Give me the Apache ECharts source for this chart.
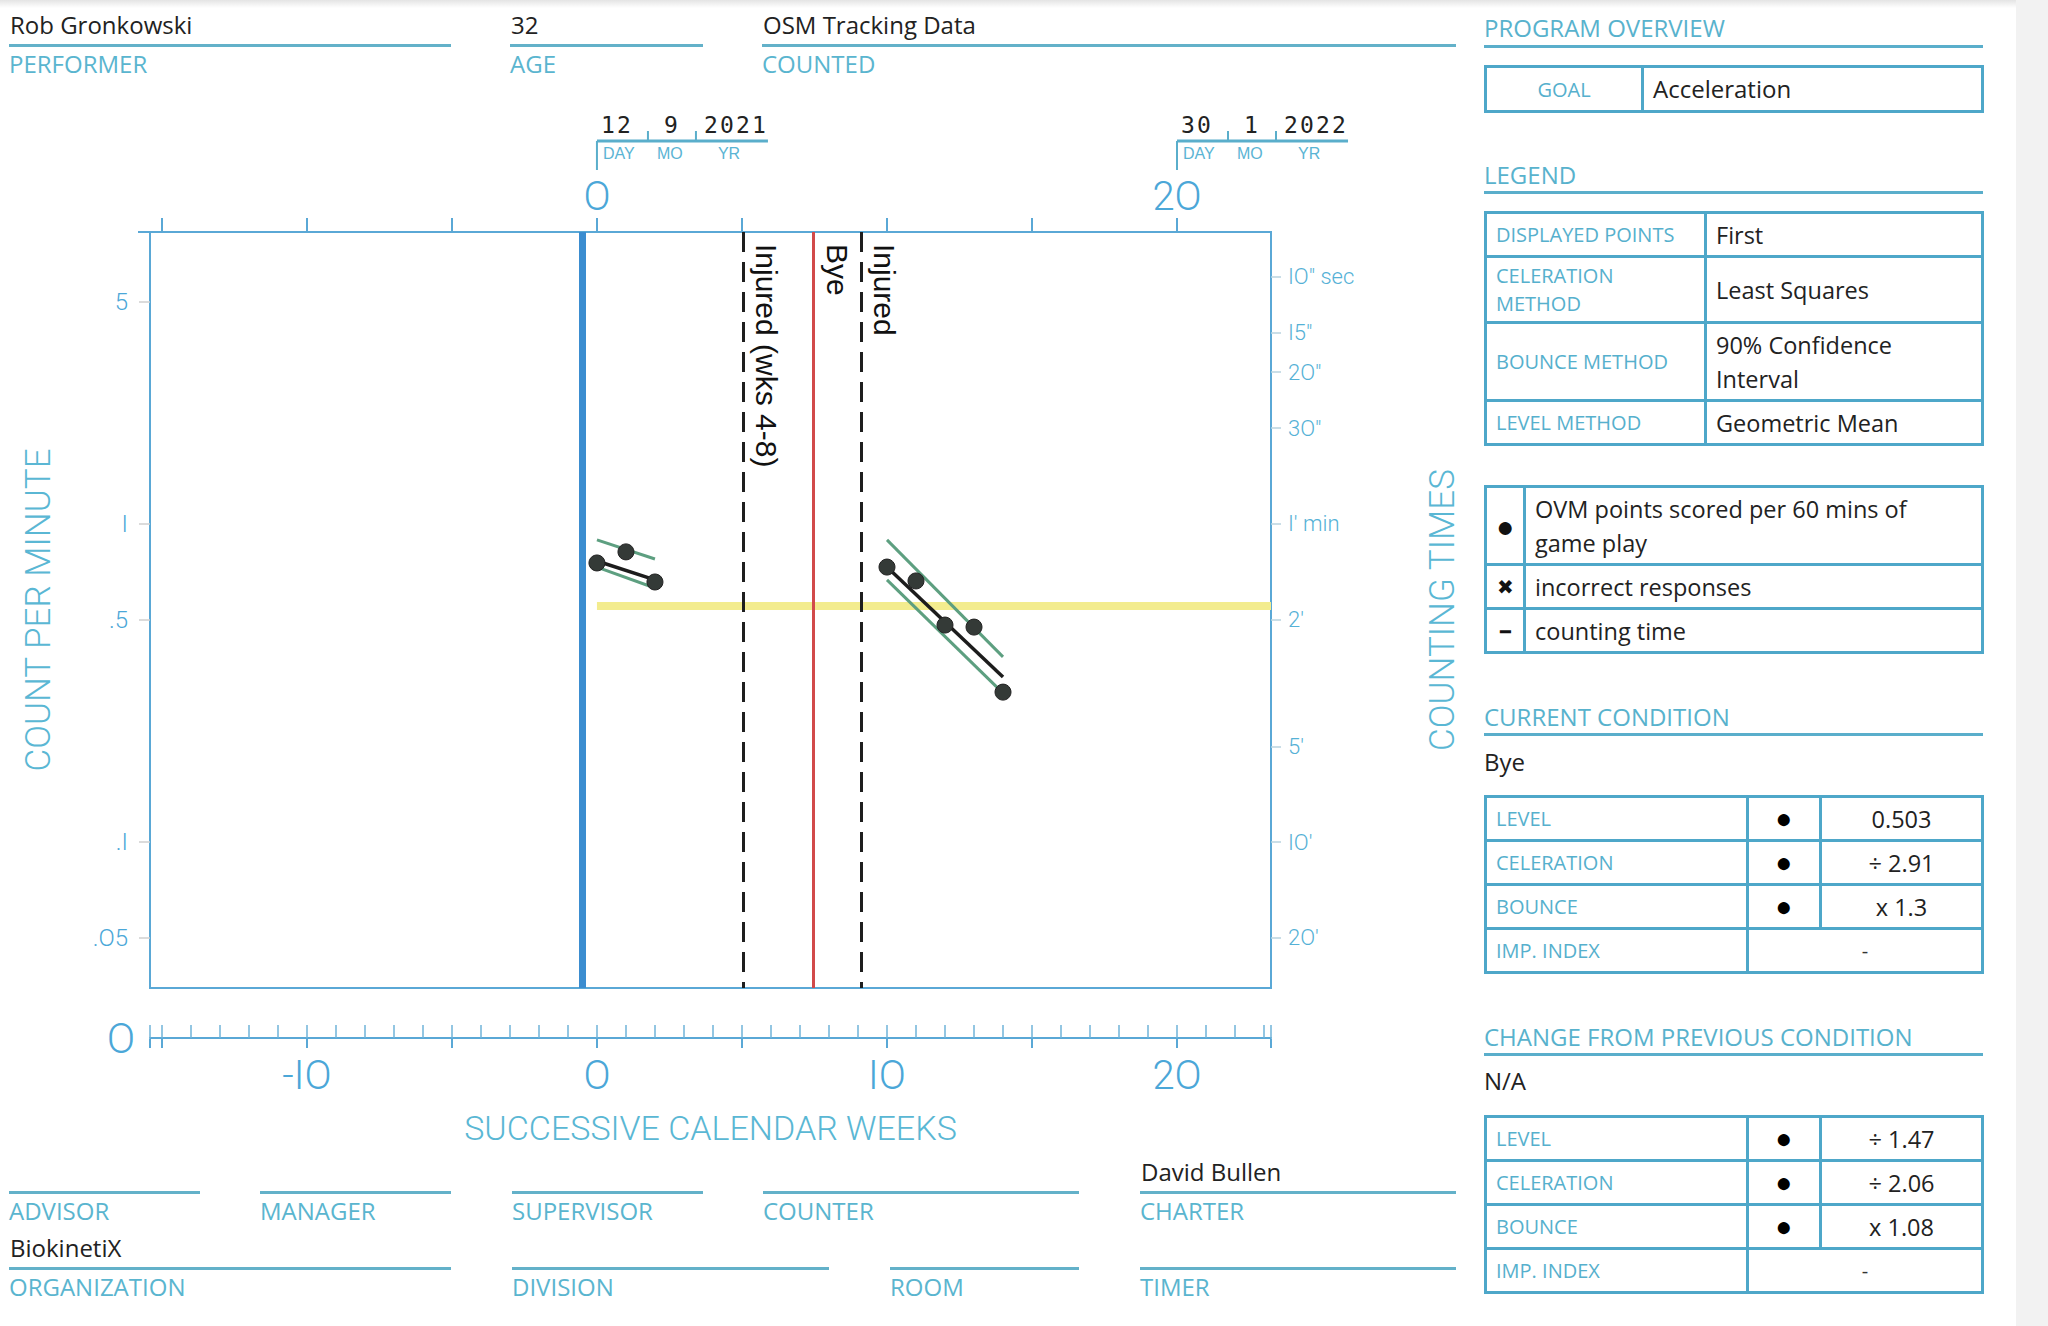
<!DOCTYPE html>
<html>
<head>
<meta charset="utf-8">
<script src="https://cdn.jsdelivr.net/npm/echarts@6/dist/echarts.min.js"></script>
<style>
  html, body { margin:0; padding:0; background:#fff; }
  body { width:2048px; height:1326px; position:relative; overflow:hidden; font-family:'Open Sans', sans-serif; }
  #chart { position:absolute; left:0; top:0; width:2048px; height:1326px; }
  .hline { position:absolute; height:3px; background:#63b1c9; }
  .val { position:absolute; font-size:24px; color:#222; white-space:nowrap; line-height:30px; }
  .lab { position:absolute; font-size:24px; color:#5ab5cf; white-space:nowrap; line-height:30px; }
  .sec { position:absolute; font-size:24px; color:#58b2cd; white-space:nowrap; line-height:30px; }
  table.pt { position:absolute; border-collapse:collapse; table-layout:fixed; }
  table.pt td { border:3px solid #4ea7c9; padding:0; overflow:hidden; }
  td.k { font-size:20px; color:#56b0cd; padding-left:9px !important; line-height:28px; }
  td.v { font-size:23.5px; color:#222; padding-left:9px !important; line-height:34px; }
  td.c { text-align:center; }
  td.dot { text-align:center; font-size:28px; color:#000; line-height:24px; vertical-align:middle; }
  #strip { position:absolute; left:2016px; top:0; width:32px; height:1326px; background:#f2f2f2; }
  #shadow { position:absolute; left:0; top:0; width:2016px; height:8px; background:linear-gradient(#e4e4e4, rgba(255,255,255,0)); }
</style>
</head>
<body>
<div id="chart"></div>
<div id="overlay"></div>
<div id="strip"></div>
<div id="shadow"></div>
<script>
// ---------------- data ----------------
const countTicks = [5, 1, 0.5, 0.1, 0.05];
const countTickLabels = ['5', 'I', '.5', '.I', '.O5'];
const timeTicks = [6, 4, 3, 2, 1, 0.5, 0.2, 0.1, 0.05];
const timeTickLabels = ['IO" sec', 'I5"', '2O"', '3O"', "I' min", "2'", "5'", "IO'", "2O'"];
const topTickWeeks = [-15, -10, -5, 0, 5, 10, 15, 20];
const topLabelWeeks = [0, 20];
const topLabels = ['O', '2O'];
const rulerLabelWeeks = [-10, 0, 10, 20];
const rulerLabels = ['-IO', 'O', 'IO', '2O'];
const weekMin = -15.41, weekMax = 23.24;
const countMin = 0.03475, countMax = 8.28;

const weeksA = [0, 1, 2];
const pointsA = [0.754, 0.817, 0.657];
const weeksB = [10, 11, 12, 13, 14];
const pointsB = [0.732, 0.662, 0.481, 0.474, 0.296];

const trendWeeksA = [0, 2];
const celerationA = [0.765, 0.667];
const bounceUpA = [0.891, 0.776];
const bounceLowA = [0.732, 0.629];
const trendWeeksB = [10, 14];
const celerationB = [0.732, 0.330];
const bounceUpB = [0.891, 0.382];
const bounceLowB = [0.667, 0.294];

const levelWeeks = [0, 23.24];
const levelValue = 0.552;

const phaseWeeks = [-0.52, 5.03, 7.45, 9.1];
const phaseLabels = ['', 'Injured (wks 4-8)', 'Bye', 'Injured'];
const phaseKinds = ['start', 'dashed', 'red', 'dashed'];

const dateWeeks = [0, 20];
const dateValues = [['12', '9', '2021'], ['30', '1', '2022']];
const dateParts = ['DAY', 'MO', 'YR'];

const headerFields = [
  { x: 9, w: 442, y: 45, value: 'Rob Gronkowski', label: 'PERFORMER' },
  { x: 510, w: 193, y: 45, value: '32', label: 'AGE' },
  { x: 762, w: 694, y: 45, value: 'OSM Tracking Data', label: 'COUNTED' },
  { x: 9, w: 191, y: 1192, value: '', label: 'ADVISOR' },
  { x: 260, w: 191, y: 1192, value: '', label: 'MANAGER' },
  { x: 512, w: 191, y: 1192, value: '', label: 'SUPERVISOR' },
  { x: 763, w: 316, y: 1192, value: '', label: 'COUNTER' },
  { x: 1140, w: 316, y: 1192, value: 'David Bullen', label: 'CHARTER' },
  { x: 9, w: 442, y: 1268, value: 'BiokinetiX', label: 'ORGANIZATION' },
  { x: 512, w: 317, y: 1268, value: '', label: 'DIVISION' },
  { x: 890, w: 189, y: 1268, value: '', label: 'ROOM' },
  { x: 1140, w: 316, y: 1268, value: '', label: 'TIMER' }
];

const legendRows = [['DISPLAYED POINTS', 'First'], ['CELERATION<br>METHOD', 'Least Squares'], ['BOUNCE METHOD', '90% Confidence<br>Interval'], ['LEVEL METHOD', 'Geometric Mean']];
const symbolRows = [['●', 'OVM points scored per 60 mins of<br>game play'], ['✖', 'incorrect responses'], ['━', 'counting time']];
const currentRows = [['LEVEL', '●', '0.503'], ['CELERATION', '●', '÷ 2.91'], ['BOUNCE', '●', 'x 1.3'], ['IMP. INDEX', '', '-']];
const changeRows = [['LEVEL', '●', '÷ 1.47'], ['CELERATION', '●', '÷ 2.06'], ['BOUNCE', '●', 'x 1.08'], ['IMP. INDEX', '', '-']];

// ---------------- HTML panels ----------------
const ov = document.getElementById('overlay');
let html = '';
headerFields.forEach(f => {
  html += `<div class="hline" style="left:${f.x}px;top:${f.y - 1}px;width:${f.w}px"></div>`;
  if (f.value) html += `<div class="val" style="left:${f.x + 1}px;top:${f.y - 35}px">${f.value}</div>`;
  html += `<div class="lab" style="left:${f.x}px;top:${f.y + 4}px">${f.label}</div>`;
});
function section(title, y, lineY) {
  return `<div class="sec" style="left:1484px;top:${y - 15}px">${title}</div>` +
         `<div class="hline" style="left:1484px;top:${lineY - 1}px;width:499px;background:#5aaecb"></div>`;
}
html += section('PROGRAM OVERVIEW', 28, 46);
html += `<table class="pt" style="left:1484px;top:65px;width:500px"><colgroup><col style="width:157px"><col></colgroup>
  <tr style="height:45px"><td class="c" style="font-size:20px;color:#56b0cd">GOAL</td><td class="v" style="padding-left:7px;font-size:24px">Acceleration</td></tr></table>`;
html += section('LEGEND', 175, 192);
const legendHeights = [44, 66, 78, 44];
html += `<table class="pt" style="left:1484px;top:211px;width:500px"><colgroup><col style="width:220px"><col></colgroup>` +
  legendRows.map((r, i) => `<tr style="height:${legendHeights[i]}px"><td class="k">${r[0]}</td><td class="v">${r[1]}</td></tr>`).join('') + `</table>`;
const symbolHeights = [78, 44, 44];
const symbolSizes = [30, 20, 18];
html += `<table class="pt" style="left:1484px;top:485px;width:500px"><colgroup><col style="width:39px"><col></colgroup>` +
  symbolRows.map((r, i) => `<tr style="height:${symbolHeights[i]}px"><td class="c" style="font-size:${symbolSizes[i]}px;color:#111;line-height:28px">${r[0]}</td><td class="v" style="padding-left:9px">${r[1]}</td></tr>`).join('') + `</table>`;
html += section('CURRENT CONDITION', 717, 734);
html += `<div class="val" style="left:1484px;top:747px">Bye</div>`;
function condTable(rows, top) {
  return `<table class="pt" style="left:1484px;top:${top}px;width:500px"><colgroup><col style="width:262px"><col style="width:73px"><col></colgroup>` +
    rows.map(r => r[1]
      ? `<tr style="height:44px"><td class="k">${r[0]}</td><td class="dot"><span style="position:relative;top:-2px">${r[1]}</span></td><td class="c" style="font-size:23.5px;color:#222">${r[2]}</td></tr>`
      : `<tr style="height:44px"><td class="k">${r[0]}</td><td class="c" colspan="2" style="font-size:20px;color:#333">${r[2]}</td></tr>`).join('') + `</table>`;
}
html += condTable(currentRows, 795);
html += section('CHANGE FROM PREVIOUS CONDITION', 1037, 1054);
html += `<div class="val" style="left:1484px;top:1066px">N/A</div>`;
html += condTable(changeRows, 1115);
ov.innerHTML = html;

// ---------------- chart ----------------
const BLUE = '#4ba7d8';
const AXIS_FONT = 'Roboto, "Liberation Sans", sans-serif';
function lookup(ticks, labels) {
  return v => {
    for (let i = 0; i < ticks.length; i++) if (Math.abs(ticks[i] - v) <= Math.abs(ticks[i]) * 1e-6 + 1e-9) return labels[i];
    return '';
  };
}
const rulerTicks = [weekMin];
for (let w = -15; w <= 23; w++) rulerTicks.push(w);
rulerTicks.push(weekMax);
const rulerMajor = [weekMin, -15, -10, -5, 0, 5, 10, 15, 20, weekMax];

const chart = echarts.init(document.getElementById('chart'), null, { renderer: 'svg', width: 2048, height: 1326 });

const series = [];
series.push({
  type: 'line', xAxisIndex: 0, yAxisIndex: 0, symbol: 'none', z: 1, silent: true,
  lineStyle: { color: '#f3ec8e', width: 8 },
  data: levelWeeks.map(w => [w, levelValue])
});
phaseWeeks.forEach((w, i) => {
  const kind = phaseKinds[i];
  const ls = kind === 'start' ? { color: '#3b8dd0', width: 7, type: 'solid' }
           : kind === 'red' ? { color: '#d24a4a', width: 3, type: 'solid' }
           : { color: '#1e1e1e', width: 3, type: [20, 10] };
  series.push({
    type: 'line', xAxisIndex: 0, yAxisIndex: 0, data: [], silent: true, z: 2,
    markLine: {
      symbol: 'none', silent: true, animation: false,
      lineStyle: ls,
      label: {
        show: !!phaseLabels[i], position: 'insideStartTop', formatter: phaseLabels[i],
        color: '#111', fontSize: 30, fontFamily: '"Liberation Sans", Arial, sans-serif', distance: [12, 9]
      },
      emphasis: { disabled: true },
      data: [[{ coord: [w, countMax] }, { coord: [w, countMin] }]]
    }
  });
});
[[trendWeeksA, bounceUpA], [trendWeeksA, bounceLowA], [trendWeeksB, bounceUpB], [trendWeeksB, bounceLowB]].forEach(p => {
  series.push({
    type: 'line', xAxisIndex: 0, yAxisIndex: 0, symbol: 'none', z: 3, silent: true,
    lineStyle: { color: '#5d9f80', width: 3 },
    data: p[0].map((w, i) => [w, p[1][i]])
  });
});
[[trendWeeksA, celerationA], [trendWeeksB, celerationB]].forEach(p => {
  series.push({
    type: 'line', xAxisIndex: 0, yAxisIndex: 0, symbol: 'none', z: 4, silent: true,
    lineStyle: { color: '#1c1c1c', width: 3.5 },
    data: p[0].map((w, i) => [w, p[1][i]])
  });
});
[[weeksA, pointsA], [weeksB, pointsB]].forEach(p => {
  series.push({
    type: 'scatter', xAxisIndex: 0, yAxisIndex: 0, symbol: 'circle', symbolSize: 16, z: 5, silent: true,
    itemStyle: { color: '#343a37', borderColor: '#222', borderWidth: 1, opacity: 1 },
    data: p[0].map((w, i) => [w, p[1][i]])
  });
});

const option = {
  animation: false,
  backgroundColor: 'transparent',
  grid: [
    { left: 150, top: 232, width: 1121, height: 756, show: true, borderColor: '#5aa8d6', borderWidth: 2, backgroundColor: 'transparent' },
    { left: 150, top: 1038, width: 1121, height: 1, show: false }
  ],
  xAxis: [
    {
      type: 'value', gridIndex: 0, position: 'top', min: weekMin, max: weekMax,
      axisLine: { show: true, onZero: false, lineStyle: { color: '#5aa8d6', width: 2 } },
      axisTick: { show: true, customValues: topTickWeeks, length: 14, lineStyle: { color: '#5aa8d6', width: 2 } },
      axisLabel: { customValues: topLabelWeeks, formatter: lookup(topLabelWeeks, topLabels), fontSize: 40, color: BLUE, margin: 16, fontFamily: AXIS_FONT, fontWeight: 300 },
      splitLine: { show: false }
    },
    {
      type: 'value', gridIndex: 1, position: 'top', min: weekMin, max: weekMax,
      axisLine: { show: true, onZero: false, lineStyle: { color: '#5aa8d6', width: 2 } },
      axisTick: { show: true, customValues: rulerTicks, length: 13, lineStyle: { color: '#6fb3d8', width: 1.5 } },
      axisLabel: { show: false },
      splitLine: { show: false }
    },
    {
      type: 'value', gridIndex: 1, position: 'bottom', min: weekMin, max: weekMax,
      axisLine: { show: false, onZero: false },
      axisTick: { show: true, customValues: rulerMajor, length: 9, lineStyle: { color: '#5aa8d6', width: 2 } },
      axisLabel: { customValues: rulerLabelWeeks, formatter: lookup(rulerLabelWeeks, rulerLabels), fontSize: 40, color: BLUE, margin: 16, fontFamily: AXIS_FONT, fontWeight: 300 },
      splitLine: { show: false },
      name: 'SUCCESSIVE CALENDAR WEEKS', nameLocation: 'middle', nameGap: 72,
      nameTextStyle: { fontSize: 34, color: '#5ab7d4', fontFamily: AXIS_FONT, fontWeight: 300 }
    }
  ],
  yAxis: [
    {
      type: 'log', gridIndex: 0, position: 'left', min: countMin, max: countMax,
      axisLine: { show: false, onZero: false },
      axisTick: { show: true, customValues: countTicks, length: 11, lineStyle: { color: '#cfcfcf', width: 1.5 } },
      axisLabel: { customValues: countTicks, formatter: lookup(countTicks, countTickLabels), fontSize: 24, color: BLUE, margin: 22, fontFamily: AXIS_FONT, fontWeight: 300 },
      splitLine: { show: false }, minorTick: { show: false },
      name: 'COUNT PER MINUTE', nameLocation: 'middle', nameRotate: 90, nameGap: 94,
      nameTextStyle: { fontSize: 35, color: '#5ab7d4', fontFamily: AXIS_FONT, fontWeight: 300 }
    },
    {
      type: 'log', gridIndex: 0, position: 'right', min: countMin, max: countMax,
      axisLine: { show: false, onZero: false },
      axisTick: { show: true, customValues: timeTicks, length: 10, lineStyle: { color: '#b9d3df', width: 1.5 } },
      axisLabel: { customValues: timeTicks, formatter: lookup(timeTicks, timeTickLabels), fontSize: 22, color: '#55b1d6', margin: 17, fontFamily: AXIS_FONT, fontWeight: 300 },
      splitLine: { show: false }, minorTick: { show: false },
      name: 'COUNTING TIMES', nameLocation: 'middle', nameRotate: 90, nameGap: 154,
      nameTextStyle: { fontSize: 35, color: '#5ab7d4', fontFamily: AXIS_FONT, fontWeight: 300 }
    },
    { type: 'value', gridIndex: 1, show: false }
  ],
  series: series
};
chart.setOption(option);

// date brackets and ruler zero, positioned from the week axis
const graphics = [];
dateWeeks.forEach((w, k) => {
  const x = chart.convertToPixel({ xAxisIndex: 0 }, w);
  const lc = '#5aaecb';
  graphics.push({ type: 'line', shape: { x1: x, y1: 170, x2: x, y2: 141 }, style: { stroke: lc, lineWidth: 2 } });
  graphics.push({ type: 'line', shape: { x1: x, y1: 141, x2: x + 171, y2: 141 }, style: { stroke: lc, lineWidth: 3 } });
  graphics.push({ type: 'line', shape: { x1: x + 51, y1: 131, x2: x + 51, y2: 141 }, style: { stroke: lc, lineWidth: 2 } });
  graphics.push({ type: 'line', shape: { x1: x + 99, y1: 131, x2: x + 99, y2: 141 }, style: { stroke: lc, lineWidth: 2 } });
  const centers = [x + 19, x + 74, x + 138];
  const pitch = 16;
  dateValues[k].forEach((t, i) => {
    const start = centers[i] - (t.length - 1) * pitch / 2;
    for (let c = 0; c < t.length; c++) {
      graphics.push({ type: 'text', x: start + c * pitch, y: 125, style: { text: t[c], fill: '#222', font: '23px "DejaVu Sans Mono", monospace', textAlign: 'center', textVerticalAlign: 'middle' } });
    }
  });
  const partX = [x + 6, x + 60, x + 121];
  dateParts.forEach((t, i) => {
    graphics.push({ type: 'text', x: partX[i], y: 153, style: { text: t, fill: '#5ab4d4', font: '16px "Liberation Sans", Arial, sans-serif', textAlign: 'left', textVerticalAlign: 'middle' } });
  });
});
graphics.push({ type: 'line', shape: { x1: 138, y1: 232, x2: 150, y2: 232 }, style: { stroke: '#5aa8d6', lineWidth: 2 } });
graphics.push({ type: 'text', x: 121, y: 1038, style: { text: 'O', fill: BLUE, font: '300 42px ' + AXIS_FONT, textAlign: 'center', textVerticalAlign: 'middle' } });
chart.setOption({ graphic: graphics });
</script>
</body>
</html>
